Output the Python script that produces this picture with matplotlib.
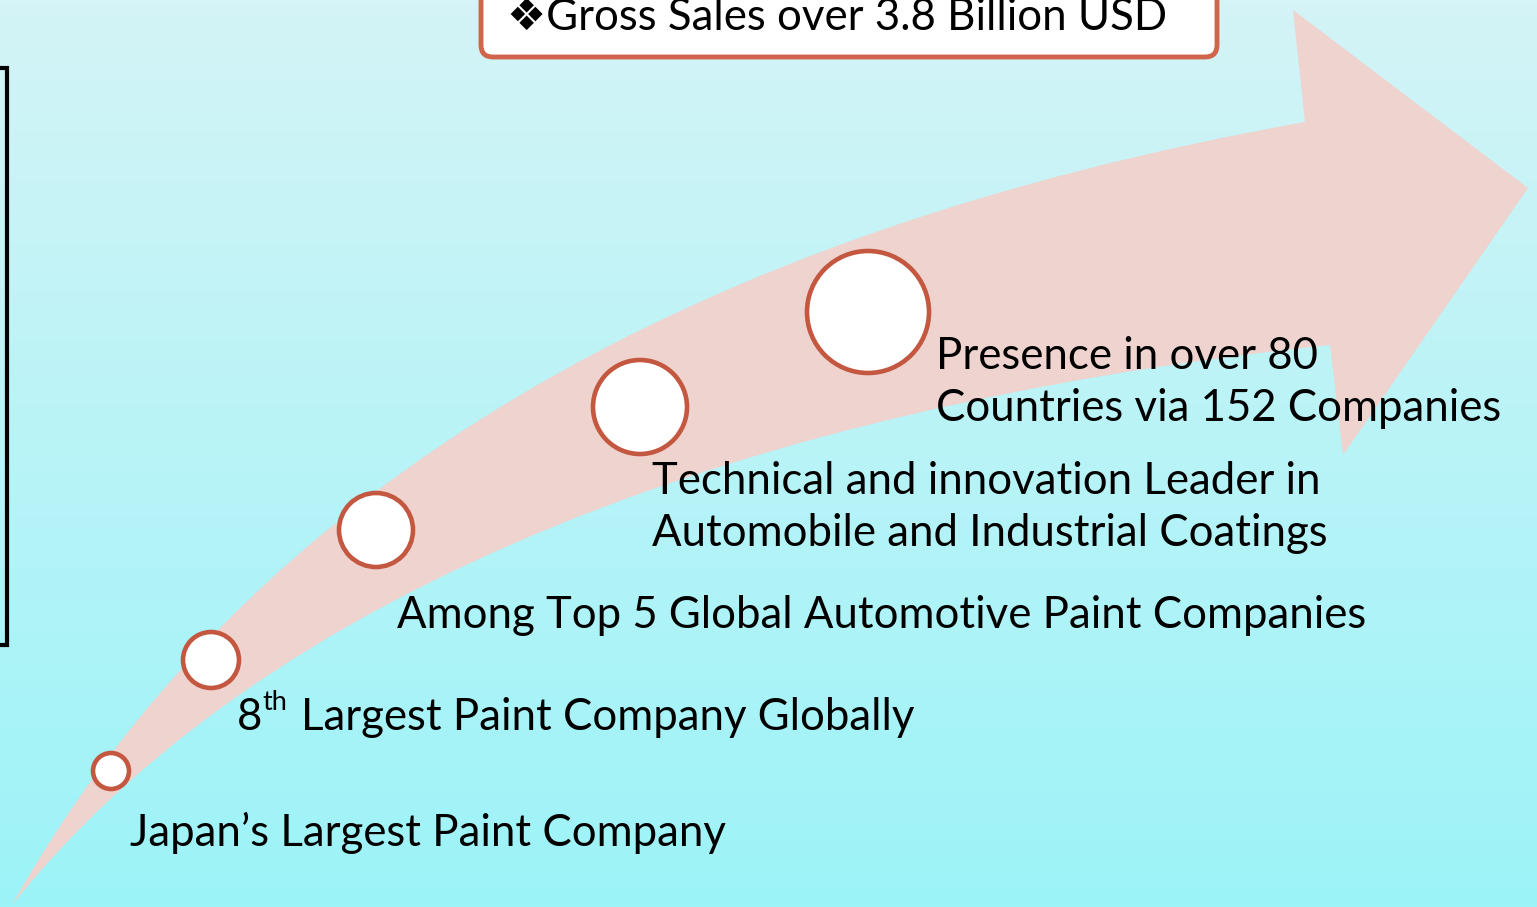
import numpy as np
import matplotlib
matplotlib.use("Agg")
import matplotlib.pyplot as plt
from matplotlib.path import Path
from matplotlib.patches import PathPatch, Circle, FancyBboxPatch

plt.rcParams['font.family'] = ['Lato', 'DejaVu Sans']

# ------------------- DATA ------------------- #
milestones = [
    "Japan\u2019s Largest Paint Company",
    "Largest Paint Company Globally",
    "Among Top 5 Global Automotive Paint Companies",
    "Technical and innovation Leader in\nAutomobile and Industrial Coatings",
    "Presence in over 80\nCountries via 152 Companies",
]
circle_radius = [18, 28, 37, 47, 61]
headline = "\u2756Gross Sales over 3.8 Billion USD"

# ------------------- LAYOUT ------------------- #
W, H = 1537, 907
circle_xy = [(111, 771), (211, 660), (376, 530), (640, 407), (868, 312)]
label_xy = [(130, 846), (301, 730), (397, 628), (652, 494), (936, 369)]

PINK = "#EED3CF"
RING = "#C4573F"
BOX_EDGE = "#D0654C"
FS = 31.5

fig = plt.figure(figsize=(W / 100, H / 100), dpi=100)
ax = fig.add_axes([0, 0, 1, 1])
ax.set_xlim(0, W)
ax.set_ylim(H, 0)
ax.axis("off")

# background gradient (top light cyan -> bottom brighter cyan)
top = np.array([0xD4, 0xF4, 0xF6]) / 255
bot = np.array([0x9C, 0xF3, 0xF8]) / 255
t = np.linspace(0, 1, 256)[:, None]
grad = top * (1 - t) + bot * t
ax.imshow(grad[:, None, :], extent=[0, W, H, 0], aspect="auto", zorder=0)

# curved arrow
verts = [
    (12, 905),
    (250, 480), (700, 230), (1305, 122),   # upper edge
    (1293, 10),                            # head top
    (1528, 188),                           # tip
    (1343, 455),                           # head bottom
    (1330, 345),                           # notch
    (850, 395), (300, 545), (12, 905),     # lower edge
    (12, 905),
]
codes = [Path.MOVETO,
         Path.CURVE4, Path.CURVE4, Path.CURVE4,
         Path.LINETO, Path.LINETO, Path.LINETO, Path.LINETO,
         Path.CURVE4, Path.CURVE4, Path.CURVE4,
         Path.CLOSEPOLY]
ax.add_patch(PathPatch(Path(verts, codes), facecolor=PINK, edgecolor="none", zorder=1))

# milestone circles
for (cx, cy), r in zip(circle_xy, circle_radius):
    ax.add_patch(Circle((cx, cy), r, facecolor="white", edgecolor=RING, lw=3.3, zorder=3))

# labels
for i, (txt, (x, y)) in enumerate(zip(milestones, label_xy)):
    if i == 1:
        ax.text(237, y, "8", fontsize=FS, ha="left", va="baseline", zorder=4)
        ax.text(262, y - 20, "th", fontsize=FS * 0.62, ha="left", va="baseline", zorder=4)
    lines = txt.split("\n")
    for j, line in enumerate(lines):
        ax.text(x, y + j * 52, line, fontsize=FS, ha="left", va="baseline", zorder=4)

# top box
ax.add_patch(FancyBboxPatch((481, -40), 736, 97, boxstyle="round,pad=0,rounding_size=12",
                            facecolor="white", edgecolor=BOX_EDGE, lw=3.5, zorder=4))
ax.text(507, 30, headline, fontsize=FS, ha="left", va="baseline", zorder=5)

# left bracket
ax.plot([-10, 7, 7, -10], [68, 68, 645, 645], color="black", lw=3, zorder=4,
        solid_joinstyle="miter")

fig.savefig("out.png", dpi=100)
